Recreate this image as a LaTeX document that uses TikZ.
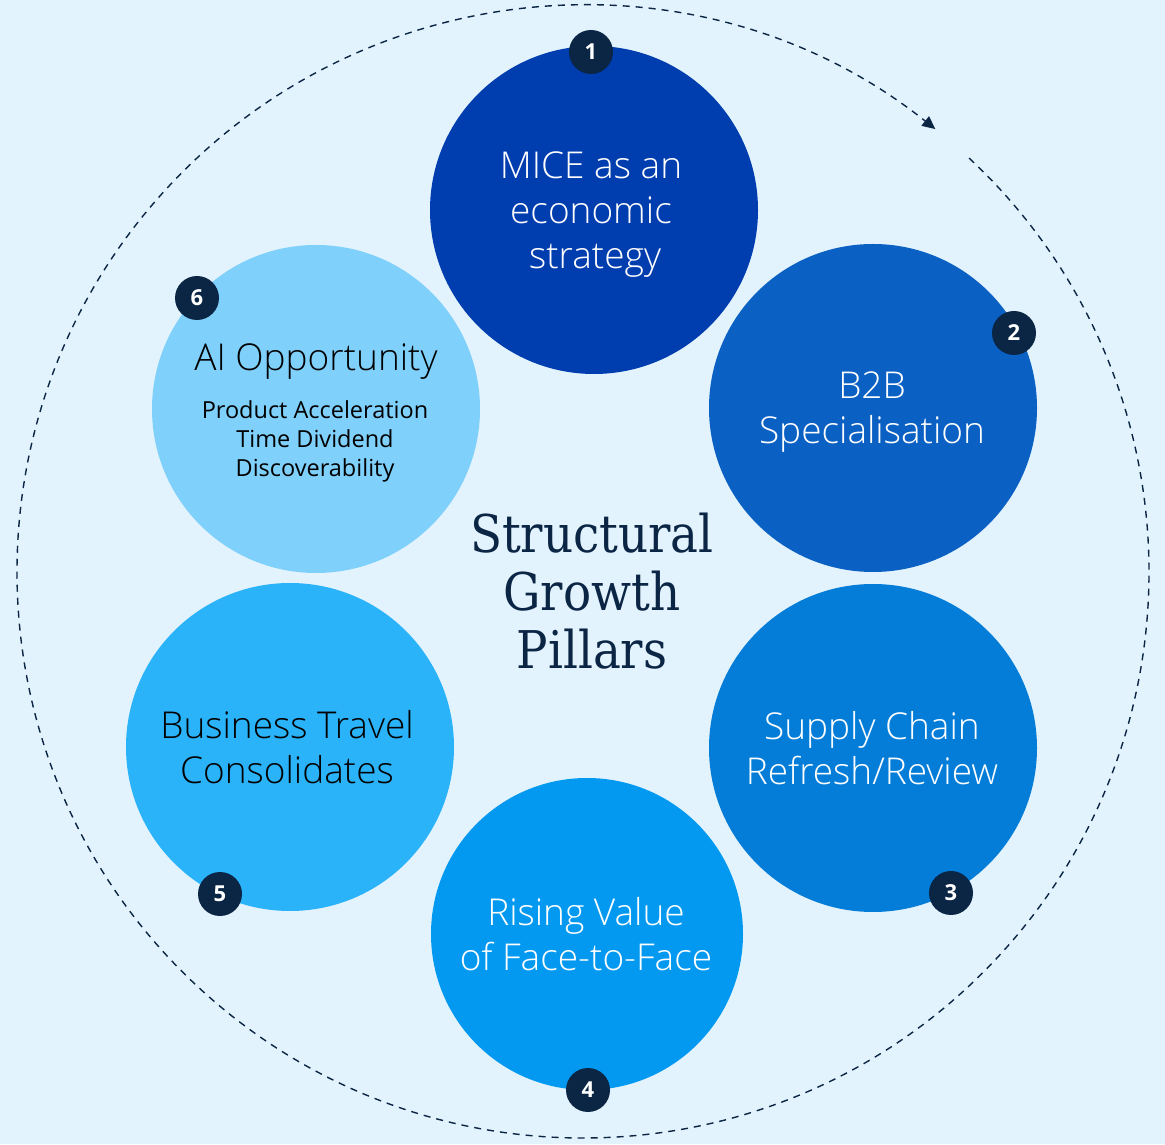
\documentclass[tikz,border=0pt]{standalone}
\usepackage{fontspec}
\setmainfont{Open Sans}
\newfontfamily\lightfont{Open Sans Light}
\newfontfamily\titlefont{DejaVu Serif Condensed}
\usetikzlibrary{arrows.meta,calc}
\definecolor{bgc}{HTML}{E3F3FD}
\definecolor{navy}{HTML}{0B2545}
\definecolor{cA}{HTML}{003DAF}
\definecolor{cB}{HTML}{0A60C3}
\definecolor{cC}{HTML}{047DD9}
\definecolor{cD}{HTML}{0399F1}
\definecolor{cE}{HTML}{2BB3FA}
\definecolor{cF}{HTML}{80D0FC}
\tikzset{
  pillar/.style={circle, minimum size=328pt, inner sep=0pt, draw=none},
  ptext/.style={align=center, font=\lightfont\fontsize{37}{45}\selectfont},
  badge/.style={circle, fill=navy, minimum size=44pt, inner sep=0pt, text=white,
    font=\bfseries\fontsize{22}{22}\selectfont},
}
\begin{document}
\begin{tikzpicture}[x=1pt,y=1pt]
\fill[bgc] (0,0) rectangle (1165,1144);
\useasboundingbox (0,0) rectangle (1165,1144);
\coordinate (ctr) at (583,572);
% dashed cycle with arrow
\draw[navy, line width=1.4pt, dash pattern=on 7pt off 6pt,
  -{Triangle[length=13pt,width=12pt]}]
  ($(ctr)+(47:566)$) arc[start angle=407, end angle=51.5, radius=566];
% circles
\node[pillar, fill=cF] (p6) at (316,735) {};
\node[pillar, fill=cA] (p1) at (594,934) {};
\node[pillar, fill=cB] (p2) at (873,736) {};
\node[pillar, fill=cC] (p3) at (873,396) {};
\node[pillar, fill=cD, minimum size=312pt] (p4) at (587,210) {};
\node[pillar, fill=cE] (p5) at (290,397) {};
% texts
\node[ptext, text=white] (t1) at (591,929) {MICE as an\\economic\\\hspace*{8pt}strategy};
\node[ptext, text=white] (t2) at (872,732) {B2B\\Specialisation};
\node[ptext, text=white] (t3) at (872,396) {Supply Chain\\Refresh/Review};
\node[ptext, text=white] (t4) at (586,210) {Rising Value\\of Face-to-Face};
\node[ptext, text=black] (t5) at (287,397) {Business Travel\\Consolidates};
\node[ptext, text=black] (t6) at (316,782) {AI Opportunity};
\node[align=center, text=black, font=\fontsize{23.5}{29}\selectfont] (t6b) at (315,703)
  {Product Acceleration\\Time Dividend\\Discoverability};
% title
\node[align=center, text=navy, font=\titlefont\fontsize{52}{58}\selectfont] (title) at (592,553)
  {Structural\\Growth\\Pillars};
% badges
\node[badge] (b1) at (591,1092) {1};
\node[badge] (b2) at (1014,811) {2};
\node[badge] (b3) at (951,251) {3};
\node[badge] (b4) at (588,54) {4};
\node[badge] (b5) at (220,250) {5};
\node[badge] (b6) at (197,846) {6};
\end{tikzpicture}
\end{document}
